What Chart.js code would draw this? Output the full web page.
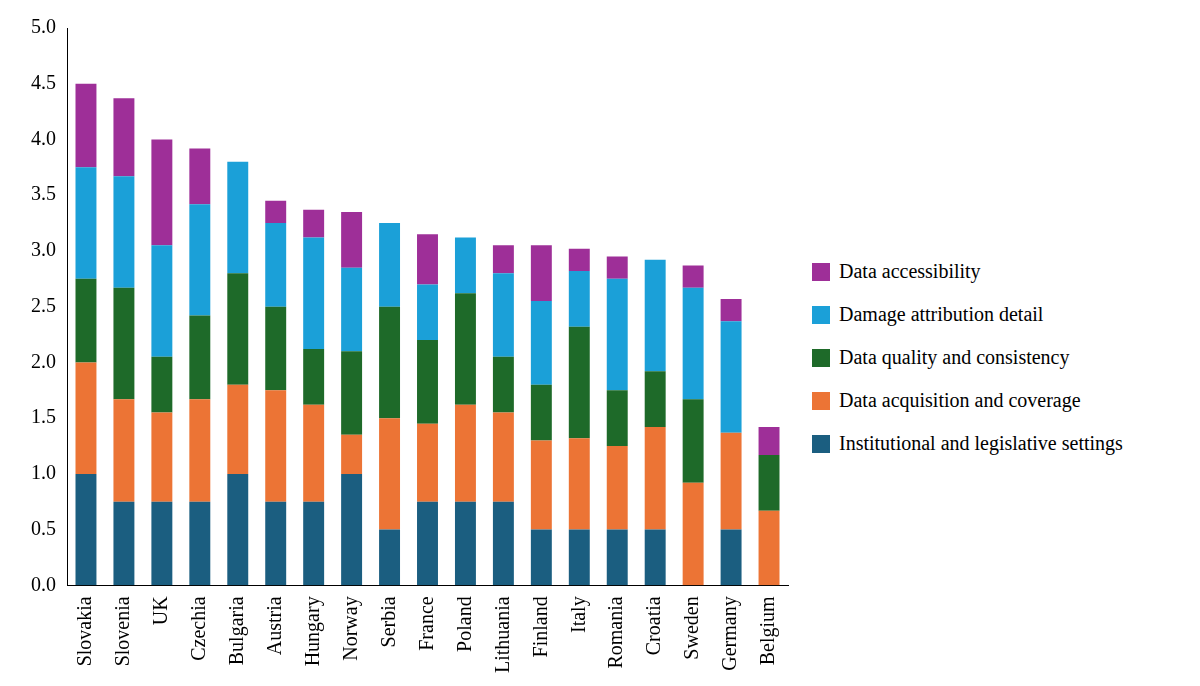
<!DOCTYPE html>
<html><head><meta charset="utf-8">
<script src="https://cdn.jsdelivr.net/npm/chart.js@4"></script>
<style>
html,body{margin:0;background:#fff}
#wrap{width:800px;height:686px;position:absolute;left:0;top:0}
#legend{position:absolute;left:812px;top:250px;font-family:"Liberation Serif","Times New Roman",serif;font-size:20px;color:#000}
#legend div{height:43px;display:flex;align-items:center}
#legend span{display:inline-block;width:18px;height:18px;margin-right:9px}
</style>
</head><body><div id="wrap"><canvas id="c"></canvas></div><div id="legend"></div>
<script>
const countries = ['Slovakia','Slovenia','UK','Czechia','Bulgaria','Austria','Hungary','Norway','Serbia','France','Poland','Lithuania','Finland','Italy','Romania','Croatia','Sweden','Germany','Belgium'];
const institutional = [1.0,0.75,0.75,0.75,1.0,0.75,0.75,1.0,0.5,0.75,0.75,0.75,0.5,0.5,0.5,0.5,0,0.5,0];
const acquisition   = [1.0,0.92,0.8,0.92,0.8,1.0,0.87,0.35,1.0,0.7,0.87,0.8,0.8,0.82,0.75,0.92,0.92,0.87,0.67];
const quality       = [0.75,1.0,0.5,0.75,1.0,0.75,0.5,0.75,1.0,0.75,1.0,0.5,0.5,1.0,0.5,0.5,0.75,0,0.5];
const damage        = [1.0,1.0,1.0,1.0,1.0,0.75,1.0,0.75,0.75,0.5,0.5,0.75,0.75,0.5,1.0,1.0,1.0,1.0,0];
const accessibility = [0.75,0.7,0.95,0.5,0,0.2,0.25,0.5,0,0.45,0,0.25,0.5,0.2,0.2,0,0.2,0.2,0.25];
const yTicks = [0,0.5,1,1.5,2,2.5,3,3.5,4,4.5,5];

const font = {family:'"Liberation Serif", "Times New Roman", serif', size:20};
const chart = new Chart(document.getElementById('c'), {
  type:'bar',
  data:{labels:countries, datasets:[
    {label:'Institutional and legislative settings', data:institutional, backgroundColor:'#1b5e80'},
    {label:'Data acquisition and coverage', data:acquisition, backgroundColor:'#ec7435'},
    {label:'Data quality and consistency', data:quality, backgroundColor:'#1e6a29'},
    {label:'Damage attribution detail', data:damage, backgroundColor:'#1ba0d8'},
    {label:'Data accessibility', data:accessibility, backgroundColor:'#9e2f98'}
  ]},
  options:{
    responsive:true, maintainAspectRatio:false, animation:false,
    layout:{padding:{left:28,top:28,right:12,bottom:10}},
    datasets:{bar:{categoryPercentage:0.92,barPercentage:0.6}},
    plugins:{tooltip:{enabled:false}, legend:{display:false}},
    scales:{
      x:{stacked:true, grid:{display:false}, border:{color:'#000'},
        ticks:{font:font, color:'#000', maxRotation:90, minRotation:90}},
      y:{stacked:true, min:0, max:5, grid:{display:false}, border:{color:'#000'},
        afterBuildTicks:a=>{a.ticks=yTicks.map(v=>({value:v}));},
        ticks:{font:font, color:'#000', callback:v=>v.toFixed(1)}}
    }
  }
});
const lg = document.getElementById('legend');
chart.data.datasets.slice().reverse().forEach(d=>{
  const row = document.createElement('div');
  const sw = document.createElement('span'); sw.style.background = d.backgroundColor;
  row.appendChild(sw); row.appendChild(document.createTextNode(d.label));
  lg.appendChild(row);
});
</script></body></html>
